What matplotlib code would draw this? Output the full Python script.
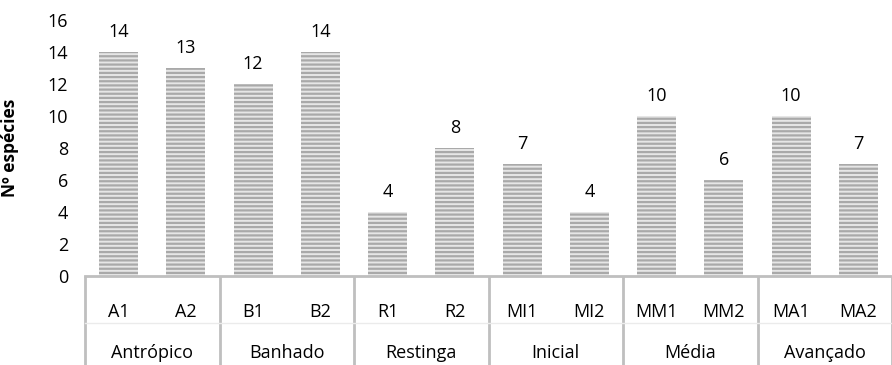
import numpy as np
import matplotlib.pyplot as plt
import matplotlib.transforms as mtransforms

plt.rcParams["font.family"] = ["Open Sans", "DejaVu Sans"]
plt.rcParams["hatch.linewidth"] = 1.6

sites = ["A1", "A2", "B1", "B2", "R1", "R2", "MI1", "MI2", "MM1", "MM2", "MA1", "MA2"]
groups = ["Antrópico", "Banhado", "Restinga", "Inicial", "Média", "Avançado"]
species = [14, 13, 12, 14, 4, 8, 7, 4, 10, 6, 10, 7]
y_ticks = [0, 2, 4, 6, 8, 10, 12, 14, 16]

fig = plt.figure(figsize=(8.92, 3.65), dpi=100)
ax = fig.add_axes([85 / 892, 89 / 365, 807 / 892, 256 / 365])

x = np.arange(len(sites))
bars = ax.bar(x, species, width=0.58, color="#e6e6e6", edgecolor="#a9a9a9",
              linewidth=0, hatch="----", zorder=2)
for xi, v in zip(x, species):
    ax.annotate(str(v), (xi, v), xytext=(0, 8), textcoords="offset points",
                ha="center", va="bottom", fontsize=13)

ax.set_xlim(-0.5, len(sites) - 0.5)
ax.set_ylim(0, 16)
ax.set_yticks(y_ticks)
ax.tick_params(axis="y", length=0, labelsize=13, pad=12)
ax.set_xticks([])
for side in ["top", "right", "left"]:
    ax.spines[side].set_visible(False)
ax.spines["bottom"].set_color("#bfbfbf")
ax.spines["bottom"].set_linewidth(2)

ax.set_ylabel("Nº espécies", fontsize=12.5, fontweight="bold")
ax.yaxis.set_label_coords(-0.082, 0.5)

# two-level category axis: site codes, then group names with divider lines
trans = mtransforms.blended_transform_factory(ax.transData, ax.transAxes)
row1 = -36 / 256
row2 = -77 / 256
for xi, name in zip(x, sites):
    ax.text(xi, row1, name, transform=trans, ha="center", va="center", fontsize=13)
for i, g in enumerate(groups):
    ax.text(2 * i + 0.5, row2, g, transform=trans, ha="center", va="center", fontsize=13)
for b in np.arange(0, len(sites) + 1, 2) - 0.5:
    ax.plot([b, b], [0, -0.36], transform=trans, color="#bfbfbf", lw=2,
            clip_on=False, solid_capstyle="butt")
ax.plot([-0.5, len(sites) - 0.5], [-47 / 256, -47 / 256], transform=trans,
        color="#ebebeb", lw=1, clip_on=False)

fig.savefig("out.png", dpi=100)
